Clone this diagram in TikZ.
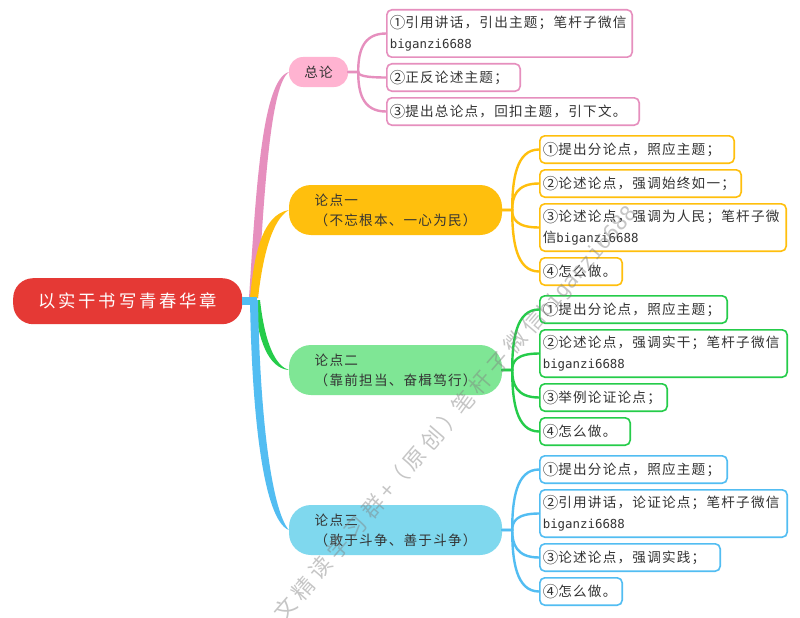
\documentclass[tikz,border=0pt]{standalone}
\usepackage{fontspec}
\usetikzlibrary{calc}
\newfontfamily\cjk[LetterSpace=9]{Noto Sans CJK SC}
\newfontfamily\cjkroot[LetterSpace=16]{Noto Sans CJK SC}
\newfontfamily\cjkwm[LetterSpace=22]{Noto Sans CJK SC}
\newfontfamily\lat{DejaVu Sans Mono}
\definecolor{cRoot}{HTML}{E53935}
\definecolor{cPinkB}{HTML}{FFB3D1}
\definecolor{cPink}{HTML}{E68FBE}
\definecolor{cOrange}{HTML}{FFBF0D}
\definecolor{cGreenB}{HTML}{7FE695}
\definecolor{cGreen}{HTML}{25CC4A}
\definecolor{cBlueB}{HTML}{7FD8EE}
\definecolor{cBlue}{HTML}{52BDF2}
\definecolor{cTxt}{HTML}{333333}
\newcommand{\wid}{{\fontsize{12.4pt}{21pt}\selectfont\lat biganzi6688}}
\newcommand{\cn}[1]{\raisebox{-1pt}{\fontsize{15.5pt}{21pt}\selectfont #1}}
\tikzset{
  x=1pt,y=-1pt,
  leafbox/.style={draw=#1,line width=1.6pt,fill=white,rounded corners=5pt,anchor=north west,align=left,
     inner xsep=3pt,inner ysep=0pt,text=cTxt,font=\cjk\fontsize{13.6pt}{21pt}\selectfont},
  topic/.style={fill=#1,rounded corners=22pt,anchor=center,inner xsep=0pt,inner ysep=0pt,
     text=cTxt,font=\cjk\fontsize{13.6pt}{20pt}\selectfont},
  topiclabel/.style={anchor=north west,inner sep=0pt,text=cTxt,align=left,font=\cjk\fontsize{13.6pt}{20pt}\selectfont},
  twig/.style={draw=#1,line width=2.4pt,line cap=round},
  limb/.style={fill=#1,draw=none}
}
% \leaf{name}{x1}{y1}{x2}{y2}{colour}{text}
\newcommand{\leaf}[7]{%
  \pgfmathsetmacro{\lw}{#4-#2-6-1.6}%
  \pgfmathsetmacro{\lh}{#5-#3-1.6}%
  \node[leafbox=#6,text width=\lw pt,minimum height=\lh pt] (#1) at (#2,#3) {#7};}
% \subtwig{parent}{child}{colour}
\newcommand{\subtwig}[3]{%
  \draw[twig=#3] let \p1=(#1.east),\p2=(#2.west) in (\x1,\y1) -- (\x1+10pt,\y1) .. controls (\x1+10pt,\y1/2+\y2/2) and (\x1+14pt,\y2) .. (\x2,\y2);}
\begin{document}
\begin{tikzpicture}
\useasboundingbox (0,0) rectangle (800,618);
\fill[white] (0,0) rectangle (800,618);
% root
\node[fill=cRoot,rounded corners=20pt,minimum width=229pt,minimum height=46pt,inner sep=0pt,anchor=north west,
   text=white,font=\cjkroot\fontsize{17.3pt}{20pt}\selectfont] (root) at (13,278) {以实干书写青春华章};
% topics
\node[topic=cPinkB,rounded corners=14pt,minimum width=59pt,minimum height=30pt] (zl) at (318.5,72) {总论};
\node[topic=cOrange,minimum width=213pt,minimum height=50pt] (t1) at (395.5,210) {};
\node[topic=cGreenB,minimum width=213pt,minimum height=50pt] (t2) at (395.5,370) {};
\node[topic=cBlueB,minimum width=213pt,minimum height=50pt] (t3) at (395.5,530) {};
\node[topiclabel] (t1l) at (314.5,194) {论点一\\（不忘根本、一心为民）};
\node[topiclabel] (t2l) at (314.5,354) {论点二\\（靠前担当、奋楫笃行）};
\node[topiclabel] (t3l) at (314.5,514) {论点三\\（敢于斗争、善于斗争）};
% limbs
\fill[limb=cPink] (249,298) .. controls (256,190) and (262,80) .. (zl.west) .. controls (272,85) and (265,170) .. (258,298) -- cycle;
\fill[limb=cOrange] (250,298) .. controls (254,255) and (262,215) .. (t1.west) .. controls (272,220) and (263,255) .. (258,298) -- cycle;
\fill[limb=cGreen] (254,300) .. controls (258,340) and (268,368) .. (t2.west) .. controls (276,366) and (265,345) .. (260,300) -- cycle;
\fill[limb=cBlue] (250,300) .. controls (252,420) and (264,520) .. (t3.west) .. controls (272,510) and (260,420) .. (258,300) -- cycle;
\fill[limb=cBlue] (root.east |- 0,297) rectangle (257,305);
% leaves
\leaf{a1}{386}{9}{633}{58}{cPink}{\cn{①}引用讲话，引出主题；笔杆子微信\\\wid}
\leaf{a2}{386}{63}{521}{92}{cPink}{\cn{②}正反论述主题；}
\leaf{a3}{386}{97}{640}{126}{cPink}{\cn{③}提出总论点，回扣主题，引下文。}
\leaf{b1}{539}{135}{735}{164}{cOrange}{\cn{①}提出分论点，照应主题；}
\leaf{b2}{539}{169}{742}{198}{cOrange}{\cn{②}论述论点，强调始终如一；}
\leaf{b3}{539}{203}{787}{252}{cOrange}{\cn{③}论述论点，强调为人民；笔杆子微\\信\wid}
\leaf{b4}{539}{257}{623}{286}{cOrange}{\cn{④}怎么做。}
\leaf{c1}{539}{295}{728}{324}{cGreen}{\cn{①}提出分论点，照应主题；}
\leaf{c2}{539}{329}{788}{378}{cGreen}{\cn{②}论述论点，强调实干；笔杆子微信\\\wid}
\leaf{c3}{539}{383}{668}{412}{cGreen}{\cn{③}举例论证论点；}
\leaf{c4}{539}{417}{631}{446}{cGreen}{\cn{④}怎么做。}
\leaf{d1}{539}{455}{728}{484}{cBlue}{\cn{①}提出分论点，照应主题；}
\leaf{d2}{539}{489}{788}{538}{cBlue}{\cn{②}引用讲话，论证论点；笔杆子微信\\\wid}
\leaf{d3}{539}{543}{721}{572}{cBlue}{\cn{③}论述论点，强调实践；}
\leaf{d4}{539}{577}{623}{606}{cBlue}{\cn{④}怎么做。}
% twigs
\foreach \c in {a1,a2,a3}{\subtwig{zl}{\c}{cPink}}
\foreach \c in {b1,b2,b3,b4}{\subtwig{t1}{\c}{cOrange}}
\foreach \c in {c1,c2,c3,c4}{\subtwig{t2}{\c}{cGreen}}
\foreach \c in {d1,d2,d3,d4}{\subtwig{t3}{\c}{cBlue}}
% watermark
\begin{scope}
\clip (0,0) rectangle (800,618);
\node[rotate=49.2,anchor=west,inner sep=0pt,text=black!50,opacity=.45,font=\cjkwm\fontsize{22pt}{22pt}\selectfont] (wm) at (279,618) {文精读学习群+\kern-2pt（原创）\kern-2pt笔杆子微信\lat\fontsize{21pt}{22pt}\selectfont biganzi6688};
\end{scope}
\end{tikzpicture}
\end{document}
